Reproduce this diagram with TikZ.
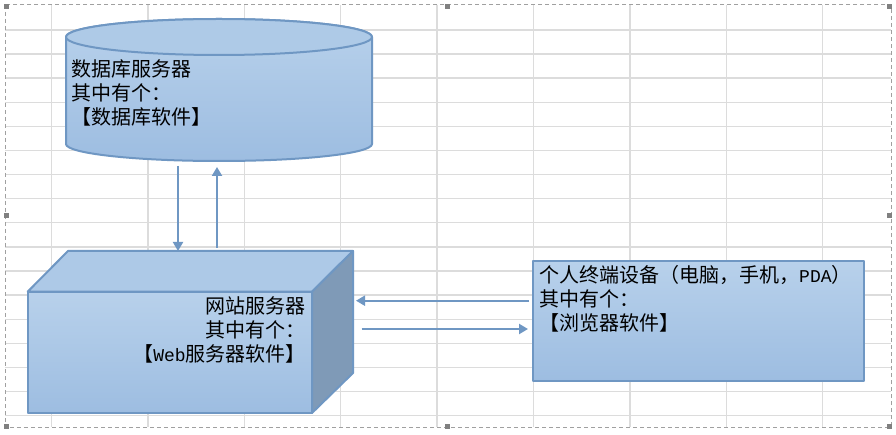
\documentclass[tikz,border=0pt]{standalone}
\usepackage{fontspec}
\setmainfont{Noto Sans CJK SC}
\newfontfamily\latmono{Liberation Mono}
\usetikzlibrary{arrows.meta}
\definecolor{bord}{HTML}{6F97C3}
\definecolor{filltop}{HTML}{B8D1EB}
\definecolor{fillbot}{HTML}{9DBDE1}
\definecolor{ellfill}{HTML}{AECAE7}
\definecolor{topface}{HTML}{ADC9E7}
\definecolor{sideface}{HTML}{7F9AB7}
\definecolor{gridc}{HTML}{DCDCDC}
\definecolor{frame}{HTML}{A0A0A0}
\definecolor{handle}{HTML}{808080}
\tikzset{
  gridline/.style={draw=gridc, line width=1.4pt},
  shapeline/.style={draw=bord, line width=2pt, line join=round},
  arr/.style={draw=bord, line width=2pt, -{Triangle[length=9pt,width=10pt]}},
  txt/.style={inner sep=0pt, font=\fontsize{20}{24}\selectfont, text=black},
  handlebox/.style={fill=handle, minimum size=5pt, inner sep=0pt},
  ghost/.style={inner sep=0pt, outer sep=0pt}
}
\begin{document}
\begin{tikzpicture}[x=1pt,y=1pt]
\useasboundingbox (0,0) rectangle (896,-435);
\fill[white] (0,0) rectangle (896,-435);
% spreadsheet grid
\foreach \i in {0,...,8}
  \draw[gridline] ({51.5+96.4*\i},-5) -- ({51.5+96.4*\i},-427);
\foreach \j in {0,...,16}
  \draw[gridline] (5,{-30-24.1*\j}) -- (891,{-30-24.1*\j});
% chart frame
\draw[frame, line width=1pt, dash pattern=on 4pt off 3pt] (5,-5) rectangle (891,-427);
\node[handlebox] (h1) at (6.5,-6.5) {};
\node[handlebox] (h2) at (447.5,-6.5) {};
\node[handlebox] (h3) at (889.5,-6.5) {};
\node[handlebox] (h4) at (6.5,-215.5) {};
\node[handlebox] (h5) at (889.5,-215.5) {};
\node[handlebox] (h6) at (6.5,-426) {};
\node[handlebox] (h7) at (447.5,-426) {};
\node[handlebox] (h8) at (889.5,-426) {};
% database cylinder
\path[shapeline, top color=filltop, bottom color=fillbot]
  (66,-37) -- (66,-144) arc[start angle=180, end angle=360, x radius=153, y radius=17]
  -- (372,-37) arc[start angle=0, end angle=180, x radius=153, y radius=18] -- cycle;
\path[shapeline, fill=ellfill] (219,-37) ellipse [x radius=153, y radius=18];
\node[ghost, minimum width=306pt, minimum height=142pt] (db) at (219,-90) {};
\node[txt, anchor=north west, align=left] (dbtext) at (71,-58.6)
  {\rule{0pt}{18pt}数据库服务器\\其中有个：\\【数据库软件】};
% web server box
\path[shapeline, top color=filltop, bottom color=fillbot] (27.7,-291.7) rectangle (312,-413);
\path[shapeline, fill=topface] (27.7,-291.7) -- (68,-251) -- (353,-251) -- (312,-291.7) -- cycle;
\path[shapeline, fill=sideface] (312,-291.7) -- (353,-251) -- (353,-373) -- (312,-413) -- cycle;
\node[ghost, minimum width=325.3pt, minimum height=162pt] (web) at (190.35,-332) {};
\node[txt, anchor=north east, align=right] (webtext) at (306,-295.3)
  {\rule{0pt}{18pt}网站服务器\\其中有个：\\【{\latmono\fontsize{18}{24}\selectfont Web}服务器软件】};
% personal terminal box
\node[shapeline, top color=filltop, bottom color=fillbot, minimum width=331pt,
  minimum height=120pt, inner sep=0pt] (pc) at (698.5,-320.7) {};
\node[txt, anchor=north west, align=left] (pctext) at (539,-264.6)
  {\rule{0pt}{18pt}个人终端设备（电脑，手机，{\latmono\fontsize{18}{24}\selectfont PDA}）\\其中有个：\\【浏览器软件】};
% connectors
\draw[arr] ([xshift=-41pt,yshift=-5pt]db.south) -- ([xshift=-12.35pt]web.north);
\draw[arr] ([xshift=26.65pt,yshift=3pt]web.north) -- ([xshift=-2pt,yshift=-6pt]db.south);
\draw[arr] ([xshift=-3pt,yshift=20pt]pc.west) -- ([xshift=3pt,yshift=31.3pt]web.east);
\draw[arr] ([xshift=8.7pt,yshift=3pt]web.east) -- ([xshift=-4pt,yshift=-8.3pt]pc.west);
\end{tikzpicture}
\end{document}
